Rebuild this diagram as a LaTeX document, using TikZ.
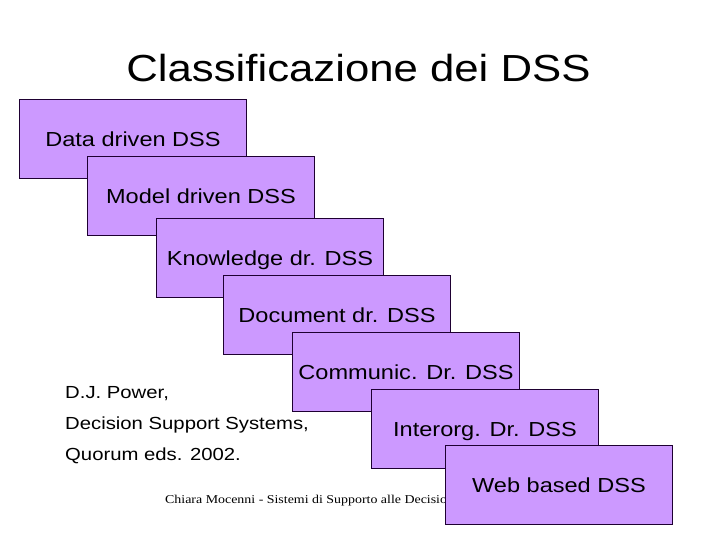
\documentclass[tikz,border=0pt]{standalone}
\usepackage{fontspec}
\setmainfont{Liberation Sans}
\newfontfamily\footerfont{Liberation Serif}
\usepackage{graphicx}
\usetikzlibrary{positioning}

\definecolor{boxfill}{HTML}{CC99FF}
\definecolor{boxline}{HTML}{1E0032}
\newcommand{\wide}[1]{\scalebox{1.16}[1]{#1}}

\begin{document}
\begin{tikzpicture}[x=1pt, y=-1pt,
    dssbox/.style={draw=boxline, fill=boxfill, line width=1pt, anchor=north west,
        minimum width=227pt, minimum height=79pt, inner sep=0pt,
        text height=14.5pt, text depth=0pt, font=\fontsize{20.3}{24}\selectfont}]
    \useasboundingbox (0,0) rectangle (720,540);

    \node[anchor=base, font=\fontsize{37.7}{44}\selectfont] (title) at (358.5,82) {\wide{Classificazione dei DSS}};

    % the seven kinds of DSS, stacked
    \node[dssbox] (data)  at (19,99)  {\wide{Data driven DSS}};
    \node[dssbox] (model) at (87,156) {\wide{Model driven DSS}};
    \node[dssbox] (know)  at (156,218) {\wide{Knowledge dr. DSS}};
    \node[dssbox] (doc)   at (223,275) {\wide{Document dr. DSS}};
    \node[dssbox] (comm)  at (292,332) {\wide{Communic. Dr. DSS}};
    \node[dssbox] (inter) at (371,389) {\wide{Interorg. Dr. DSS}};

    \node[anchor=base west, inner sep=0pt, font=\fontsize{17.5}{31}\selectfont] (ref) at (65,398)
        {\begin{tabular}[t]{@{}l@{}}\wide{D.J. Power,}\\ \wide{Decision Support Systems,}\\ \wide{Quorum eds. 2002.}\end{tabular}};

    \node[anchor=base west, inner sep=0pt, font=\footerfont\fontsize{12}{14}\selectfont] (footer) at (165,503)
        {\wide{Chiara Mocenni - Sistemi di Supporto alle Decisioni}};

    \node[dssbox] (web) at (445,445) {\wide{Web based DSS}};
\end{tikzpicture}
\end{document}
